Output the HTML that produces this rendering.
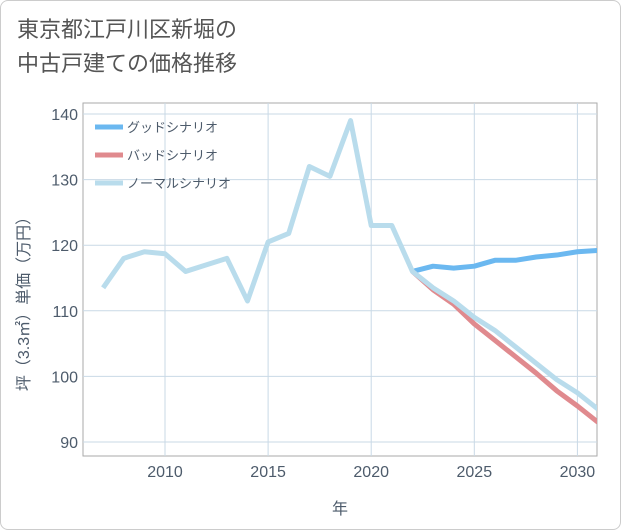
<!DOCTYPE html>
<html><head><meta charset="utf-8"><style>
body{margin:0;background:#fff;font-family:"Liberation Sans","Noto Sans CJK JP",sans-serif;}
.wrap{position:relative;width:619px;height:528px;border:1px solid #ccc;border-radius:8px;overflow:hidden;background:#fff}
.title{position:absolute;left:16px;top:12px;font-size:22px;line-height:34px;color:#555;}
</style></head><body>
<div class="wrap">
<div class="title">東京都江戸川区新堀の<br>中古戸建ての価格推移</div>
<svg id="c" width="621" height="530" style="position:absolute;left:-1px;top:-1px"></svg>
</div>
<script>
const years=[2007,2008,2009,2010,2011,2012,2013,2014,2015,2016,2017,2018,2019,2020,2021,2022,2023,2024,2025,2026,2027,2028,2029,2030,2031];
const normal=[113.5,118,119,118.7,116,117,118,111.5,120.5,121.8,132,130.5,139,123,123,116,113.5,111.5,109,107,104.5,102,99.5,97.5,95];
const goodYears=[2022,2023,2024,2025,2026,2027,2028,2029,2030,2031];
const good=[116,116.8,116.5,116.8,117.7,117.7,118.2,118.5,119,119.2];
const bad=[116,113.2,111,108,105.5,103,100.5,97.8,95.5,93];
const xTicks=[2010,2015,2020,2025,2030];
const yTicks=[90,100,110,120,130,140];
const L=83,R=597,T=103,B=456;
const TC='#4d5b6b';
const x=v=>165+(v-2010)*20.62;
const y=v=>442-(v-90)*6.56;
const svg=document.getElementById('c');const NS='http://www.w3.org/2000/svg';
function mk(t,a,p){const e=document.createElementNS(NS,t);for(const k in a)e.setAttribute(k,a[k]);(p||svg).appendChild(e);return e;}
mk('rect',{x:L,y:T,width:R-L,height:B-T,fill:'none',stroke:'#aaa'});
xTicks.forEach(t=>{const g=mk('line',{x1:x(t),x2:x(t),y1:T,y2:B,stroke:'#c9d9e6'});
const tx=mk('text',{x:x(t),y:477,'text-anchor':'middle','font-size':16,fill:TC});tx.textContent=t;});
yTicks.forEach(t=>{const g=mk('line',{x1:L,x2:R,y1:y(t),y2:y(t),stroke:'#c9d9e6'});
const tx=mk('text',{x:78,y:y(t)+6,'text-anchor':'end','font-size':16,fill:TC});tx.textContent=t;});
const xt=mk('text',{x:340,y:514,'text-anchor':'middle','font-size':16,fill:TC});xt.textContent='年';

const yt=mk('text',{x:0,y:0,'text-anchor':'middle','font-size':16,fill:TC,transform:'translate(29,300) rotate(-90)'});yt.textContent='坪（3.3㎡）単価（万円）';

const clip=mk('clipPath',{id:'cp'});mk('rect',{x:L,y:T,width:R-L,height:B-T},clip);
function line(xs,vs,col,name){const p=mk('polyline',{points:xs.map((v,i)=>x(v)+','+y(vs[i])).join(' '),fill:'none',stroke:col,'stroke-width':5,'stroke-linejoin':'round','clip-path':'url(#cp)'});}
line(goodYears,bad,'#e08a8e','bad-scenario-line');
line(goodYears,good,'#6bb8f0','good-scenario-line');
line(years,normal,'#b9dcec','normal-scenario-line');
[['グッドシナリオ','#6bb8f0'],['バッドシナリオ','#e08a8e'],['ノーマルシナリオ','#b9dcec']].forEach((d,i)=>{const yy=127+i*28;
const l=mk('line',{x1:95,x2:123,y1:yy,y2:yy,stroke:d[1],'stroke-width':5});
const t=mk('text',{x:127,y:yy+5,'font-size':13,fill:TC});t.textContent=d[0];});
</script>
</body></html>
